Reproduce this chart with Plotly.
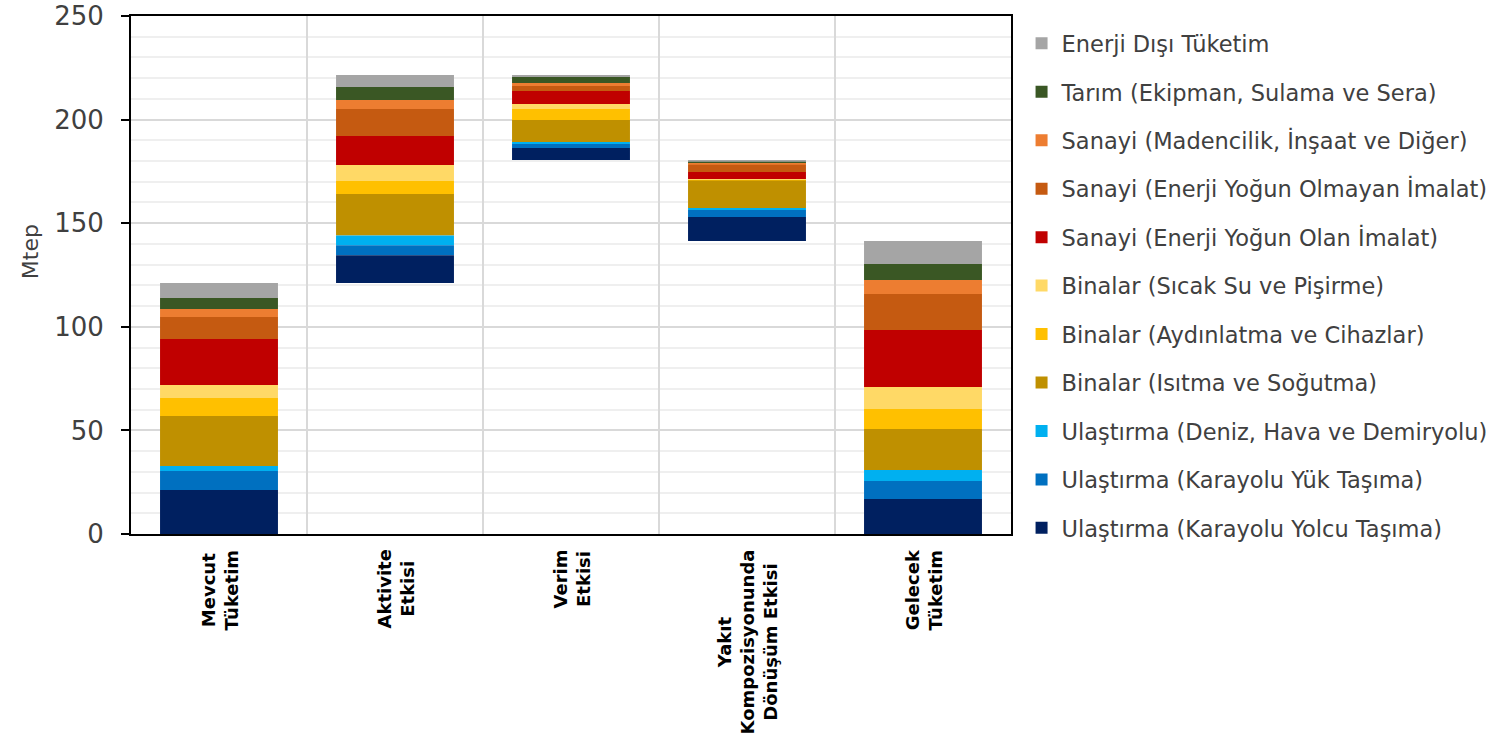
import plotly.graph_objects as go

# Column labels (line breaks shown as stacked lines under the axis)
categories = [
    "Mevcut<br>Tüketim",
    "Aktivite<br>Etkisi",
    "Verim<br>Etkisi",
    "Yakıt<br>Kompozisyonunda<br>Dönüşüm Etkisi",
    "Gelecek<br>Tüketim",
]

# Sectors, listed from the bottom of each stack to the top
sectors = [
    "Ulaştırma (Karayolu Yolcu Taşıma)",
    "Ulaştırma (Karayolu Yük Taşıma)",
    "Ulaştırma (Deniz, Hava ve Demiryolu)",
    "Binalar (Isıtma ve Soğutma)",
    "Binalar (Aydınlatma ve Cihazlar)",
    "Binalar (Sıcak Su ve Pişirme)",
    "Sanayi (Enerji Yoğun Olan İmalat)",
    "Sanayi (Enerji Yoğun Olmayan İmalat)",
    "Sanayi (Madencilik, İnşaat ve Diğer)",
    "Tarım (Ekipman, Sulama ve Sera)",
    "Enerji Dışı Tüketim",
]

colors = [
    "#002060", "#0070C0", "#00B0F0",
    "#BF9000", "#FFC000", "#FFD966",
    "#C00000", "#C55A11", "#ED7D31",
    "#3A5724", "#A5A5A5",
]

# Mtep by sector; effects are signed changes
mevcut   = [21.2, 9.2, 2.4, 24.1, 8.7, 6.3, 22.2, 10.6, 3.9, 5.3, 7.2]
aktivite = [13.4, 4.8, 4.8, 20.0, 6.3, 7.7, 14.0, 13.0, 4.4, 6.2, 5.8]
verim    = [-5.8, -1.9, -1.0, -10.6, -5.3, -2.4, -6.3, -2.4, -1.5, -2.9, -0.9]
yakit    = [-11.6, -3.4, -0.9, -13.3, -0.2, -0.5, -3.4, -3.5, -0.7, -0.8, -0.8]
gelecek  = [16.9, 8.7, 5.3, 19.8, 9.6, 10.6, 27.6, 17.3, 6.8, 7.7, 11.1]

columns = [mevcut, aktivite, verim, yakit, gelecek]
kinds = ["total", "delta", "delta", "delta", "total"]

# Floor of each floating column in the waterfall
floors = []
running = 0.0
for col, kind in zip(columns, kinds):
    s = sum(col)
    if kind == "total":
        floors.append(0.0)
        running = s
    elif s >= 0:
        floors.append(running)
        running += s
    else:
        running += s
        floors.append(running)

fig = go.Figure()
# Added top sector first so the legend lists them top-down
for i in reversed(range(len(sectors))):
    name, color = sectors[i], colors[i]
    heights = [abs(col[i]) for col in columns]
    bases = [f + sum(abs(v) for v in col[:i]) for f, col in zip(floors, columns)]
    fig.add_trace(go.Bar(
        x=categories, y=heights, base=bases, name=name,
        marker=dict(color=color, line=dict(width=0)),
        legendgroup=name,
    ))

for cat in categories:
    fig.add_annotation(
        x=cat, xref="x", y=0, yref="paper", yanchor="top", yshift=-14,
        text=cat, textangle=-90, showarrow=False, align="center",
        font=dict(family="DejaVu Sans", size=18, color="black", weight="bold"),
    )

# Axis title placed beside the value axis
fig.add_annotation(
    x=0, xref="paper", xshift=-101, xanchor="center",
    y=0.544, yref="paper", yanchor="middle",
    text="Mtep", textangle=-90, showarrow=False,
    font=dict(family="DejaVu Sans", size=22, color="#404040"),
)

fig.update_layout(
    width=1493, height=738,
    margin=dict(l=131, r=482, t=16, b=204, autoexpand=False),
    barmode="overlay", bargap=0.33,
    plot_bgcolor="white", paper_bgcolor="white",
    font=dict(family="DejaVu Sans", color="#404040"),
    legend=dict(
        x=1.012, xanchor="left", y=0.988, yanchor="top",
        traceorder="grouped", tracegroupgap=16.2,
        font=dict(family="DejaVu Sans", size=22.5, color="#404040"),
        bgcolor="rgba(0,0,0,0)",
        maxheight=730,
    ),
)

fig.update_xaxes(
    type="category", showticklabels=False, ticks="",
    tickson="boundaries", showgrid=True, gridcolor="#d9d9d9", gridwidth=2,
    showline=True, linecolor="black", linewidth=2, mirror=True,
)
fig.update_yaxes(
    range=[0, 250], dtick=50, tick0=0,
    ticks="outside", ticklen=8, tickwidth=2, tickcolor="black",
    tickfont=dict(family="DejaVu Sans", size=26, color="#404040"),
    ticklabelstandoff=12,
    showgrid=True, gridcolor="#d9d9d9", gridwidth=2,
    minor=dict(dtick=10, showgrid=True, gridcolor="#efefef", gridwidth=1.5, ticks=""),
    showline=True, linecolor="black", linewidth=2, mirror=True,
    zeroline=False, automargin=False,
)

fig.write_html("out.html")
